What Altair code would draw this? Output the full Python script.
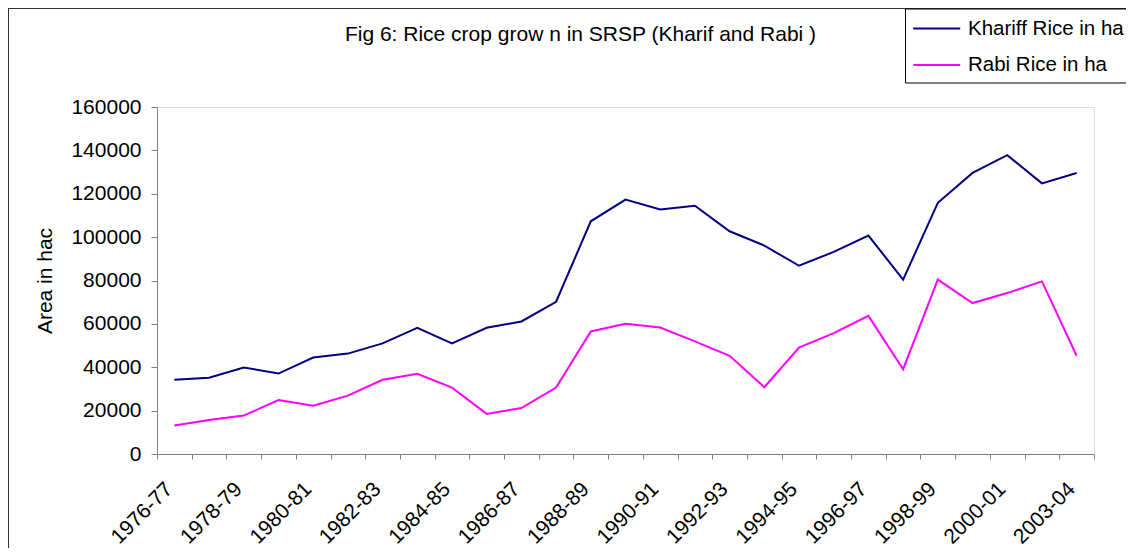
import altair as alt
import pandas as pd

# ---- data ----
years = [
    "1976-77", "1977-78", "1978-79", "1979-80", "1980-81", "1981-82", "1982-83",
    "1983-84", "1984-85", "1985-86", "1986-87", "1987-88", "1988-89", "1989-90",
    "1990-91", "1991-92", "1992-93", "1993-94", "1994-95", "1995-96", "1996-97",
    "1997-98", "1998-99", "1999-00", "2000-01", "2001-02", "2003-04",
]
khariff = [34200, 35200, 39900, 37100, 44500, 46300, 51000, 58200, 51000, 58200,
           61100, 70200, 107300, 117300, 112700, 114500, 102700, 96100, 86800,
           93200, 100700, 80400, 115800, 129600, 137800, 124800, 129600]
rabi = [13100, 15700, 17700, 24900, 22300, 26900, 34200, 37000, 30600, 18500,
        21200, 30600, 56500, 60000, 58300, 51900, 45300, 30800, 49100, 55700,
        63700, 39100, 80400, 69600, 74200, 79600, 45300]
series_names = ["Khariff Rice in ha", "Rabi Rice in ha"]
series_colors = ["#000080", "#FF00FF"]
y_ticks = [0, 20000, 40000, 60000, 80000, 100000, 120000, 140000, 160000]
shown_labels = years[::2]

title_text = "Fig 6: Rice crop grow n in SRSP (Kharif and Rabi )"
y_title = "Area in hac"

FONT = "Liberation Sans, Arial, sans-serif"
FS = 21
GREY = "#808080"

df = pd.DataFrame({
    "Year": years + years,
    "Area": khariff + rabi,
    "Series": [series_names[0]] * len(years) + [series_names[1]] * len(years),
})

label_expr = ("indexof([" + ",".join("'" + y + "'" for y in shown_labels) +
              "], datum.value) >= 0 ? datum.label : ''")

W, H = 937, 347
PAD = {"left": 149, "top": 99, "right": 32, "bottom": 94}

lines = alt.Chart(df).mark_line(strokeWidth=2).encode(
    x=alt.X("Year:N", sort=years,
            scale=alt.Scale(type="band", paddingInner=0, paddingOuter=0),
            axis=alt.Axis(title=None, labelExpr=label_expr, labelAngle=-45,
                          labelAlign="right", labelBaseline="top",
                          labelOffset=-13, labelPadding=19,
                          labelFontSize=FS, labelFont=FONT, labelColor="black",
                          labelOverlap=False, labelBound=False, labelLimit=0,
                          tickSize=5, tickColor=GREY, domainColor=GREY,
                          tickBand="extent", grid=False)),
    y=alt.Y("Area:Q",
            scale=alt.Scale(domain=[0, 160000], nice=False, zero=True),
            axis=alt.Axis(values=y_ticks, format="d", grid=False,
                          tickSize=6, labelPadding=10, labelFontSize=FS,
                          labelFont=FONT, labelColor="black",
                          tickColor=GREY, domainColor=GREY,
                          title=y_title, titleFontSize=FS, titleFont=FONT,
                          titleFontWeight="normal", titleColor="black",
                          titleAngle=-90, titleX=-106, titleY=H / 2,
                          titleAlign="center", titleBaseline="alphabetic")),
    color=alt.Color("Series:N",
                    scale=alt.Scale(domain=series_names, range=series_colors),
                    legend=alt.Legend(title=None, orient="none",
                                      legendX=748, legendY=-98.5,
                                      symbolType="M-1,0L3,0",
                                      symbolSize=552,
                                      symbolStrokeWidth=2,
                                      labelFontSize=20.5, labelFont=FONT,
                                      labelColor="black", labelOffset=30,
                                      padding=7, rowPadding=12.5,
                                      strokeColor="black", fillColor="white",
                                      cornerRadius=0, labelLimit=0,
                                      direction="vertical")),
)

frame_df = pd.DataFrame({"k": [0]})
left_border = alt.Chart(frame_df).mark_rule(color="#333333", strokeWidth=1).encode(
    x=alt.value(-148.5), y=alt.value(-99), y2=alt.value(H + PAD["bottom"]))
top_border = alt.Chart(frame_df).mark_rule(color="#333333", strokeWidth=1).encode(
    x=alt.value(-149), x2=alt.value(W + PAD["right"]), y=alt.value(-98.5))

chart = alt.layer(left_border, top_border, lines).properties(
    width=W, height=H,
    title=alt.TitleParams(title_text, fontSize=FS, font=FONT,
                          fontWeight="normal", color="black",
                          anchor="middle", frame="group", dx=-45,
                          baseline="alphabetic", offset=0, dy=54),
    autosize=alt.AutoSizeParams(type="none"),
    padding=PAD,
).configure_view(stroke=None).configure(background="white")

chart.save("out.html", embed_options={"renderer": "svg", "actions": False})
